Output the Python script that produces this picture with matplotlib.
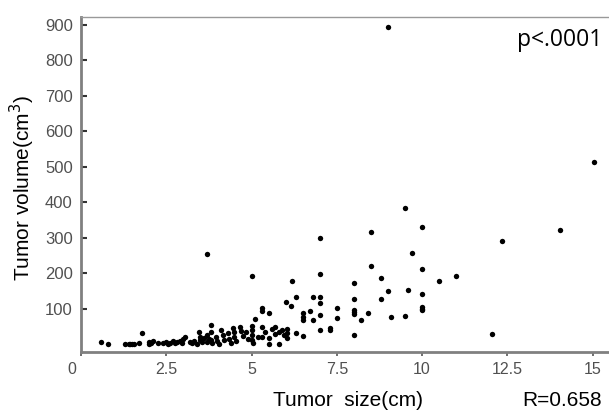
import matplotlib
matplotlib.use("Agg")
import matplotlib.pyplot as plt
from matplotlib.transforms import ScaledTranslation

plt.rcParams['font.family'] = ['Liberation Sans', 'DejaVu Sans']

# tumor size (cm) vs tumor volume (cm3)
size_cm = [0.6, 0.8, 1.3, 1.4, 1.45, 1.5, 1.55, 1.7, 1.8, 2.0, 2.0, 2.05, 2.1, 2.25,
           2.4, 2.5, 2.55, 2.6, 2.7, 2.75, 2.8, 2.9, 2.95, 3.0, 3.05, 3.2, 3.25, 3.3,
           3.4, 3.45, 3.5, 3.5, 3.55, 3.6, 3.7, 3.7, 3.7, 3.75, 3.8, 3.8, 3.8, 3.85,
           3.95, 4.0, 4.05, 4.1, 4.15, 4.2, 4.3, 4.35, 4.4, 4.45, 4.5, 4.5, 4.55,
           4.65, 4.7, 4.75, 4.85, 4.9, 5.0, 5.0, 5.0, 5.0, 5.0, 5.05, 5.1, 5.2, 5.3,
           5.3, 5.3, 5.3, 5.4, 5.5, 5.5, 5.5, 5.6, 5.7, 5.7, 5.8, 5.8, 5.9, 5.95,
           6.05, 6.05, 6.05, 6.0, 6.15, 6.2, 6.3, 6.3, 6.5, 6.5, 6.5, 6.5, 6.7, 6.8,
           6.8, 7.0, 7.0, 7.0, 7.0, 7.0, 7.0, 7.3, 7.3, 7.5, 7.5, 8.0, 8.0, 8.0, 8.0,
           8.0, 8.0, 8.2, 8.4, 8.5, 8.5, 8.8, 8.8, 9.0, 9.0, 9.1, 9.5, 9.5, 9.6, 9.7,
           10.0, 10.0, 10.0, 10.0, 10.0, 10.0, 10.5, 11.0, 12.05, 12.35, 14.05, 15.05]
volume_cm3 = [8, 0, 0, 0, 1, 0, 2, 5, 32, 0, 7, 3, 10, 5,
              3, 8, 2, 5, 10, 4, 6, 9, 3, 15, 20, 7, 4, 10,
              2, 35, 21, 13, 6, 18, 255, 7, 27, 15, 55, 35, 13, 4,
              21, 10, 2, 41, 27, 12, 33, 15, 5, 46, 35, 20, 10,
              49, 38, 25, 35, 15, 193, 52, 41, 27, 13, 5, 72, 21, 102,
              95, 49, 21, 36, 90, 18, 2, 43, 49, 30, 36, 2, 41, 27,
              43, 33, 18, 119, 108, 180, 135, 33, 89, 78, 69, 24, 94, 134,
              69, 300, 198, 134, 117, 83, 41, 46, 42, 103, 75, 173, 128, 97, 92,
              87, 27, 69, 88, 317, 221, 187, 128, 895, 151, 77, 384, 80, 153, 258,
              331, 213, 142, 106, 101, 96, 179, 193, 30, 291, 322, 515]

x_ticks = [0, 2.5, 5, 7.5, 10, 12.5, 15]
x_ticklabels = ['0', '2.5', '5', '7.5', '10', '12.5', '15']
y_ticks = [100, 200, 300, 400, 500, 600, 700, 800, 900]

narrow = ['Liberation Sans Narrow', 'Liberation Sans', 'DejaVu Sans']

fig = plt.figure(figsize=(6.09, 4.17), dpi=100)
ax = fig.add_axes([0.133, 0.156, 0.867, 0.803])

ax.scatter(size_cm, volume_cm3, s=15, color='black', linewidths=0, zorder=3)

ax.set_xlim(0, 15.48)
ax.set_ylim(-21, 922)

ax.set_xticks(x_ticks)
ax.set_xticklabels(x_ticklabels, fontsize=11.5, color='#505050', family=narrow)
ax.set_yticks(y_ticks)
ax.set_yticklabels([str(v) for v in y_ticks], fontsize=12, color='#505050', family=narrow)

ax.tick_params(axis='y', direction='in', length=4, width=1.5, color='#333333', pad=6)
ax.tick_params(axis='x', direction='out', length=3, width=1.2, color='#555555', pad=4)

# the "0" label sits left of the corner
lbl0 = ax.get_xticklabels()[0]
lbl0.set_transform(lbl0.get_transform() + ScaledTranslation(-9 / 100, 0, fig.dpi_scale_trans))

for side in ['left', 'bottom']:
    ax.spines[side].set_color('#808080')
    ax.spines[side].set_linewidth(2)
ax.spines['top'].set_color('#999999')
ax.spines['top'].set_linewidth(1)
ax.spines['right'].set_visible(False)

fig.text(22 / 609, 1 - 188 / 417, 'Tumor volume(cm$^3$)', fontsize=15, rotation=90,
         ha='center', va='center')
fig.text(348 / 609, 1 - 400 / 417, 'Tumor  size(cm)', fontsize=15, ha='center', va='center')
fig.text(562 / 609, 1 - 401 / 417, 'R=0.658', fontsize=15, ha='center', va='center')
fig.text(602 / 609, 1 - 40 / 417, 'p<.0001', fontsize=16.5, ha='right', va='center',
         family=['Open Sans', 'DejaVu Sans'])

fig.savefig('out.png', dpi=100)
